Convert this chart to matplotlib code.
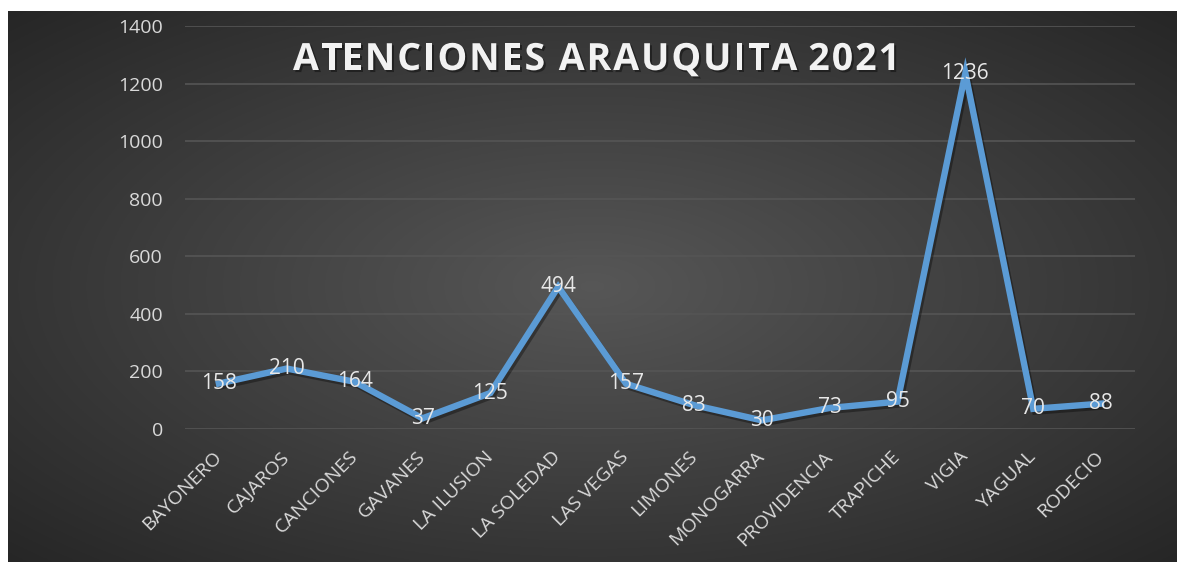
import matplotlib
matplotlib.use('Agg')
import matplotlib.pyplot as plt
import matplotlib.patheffects as pe
import numpy as np

labels = ['BAYONERO', 'CAJAROS', 'CANCIONES', 'GAVANES', 'LA ILUSION', 'LA SOLEDAD', 'LAS VEGAS',
          'LIMONES', 'MONOGARRA', 'PROVIDENCIA', 'TRAPICHE', 'VIGIA', 'YAGUAL', 'RODECIO']
atenciones = [158, 210, 164, 37, 125, 494, 157, 83, 30, 73, 95, 1236, 70, 88]
y_ticks = [0, 200, 400, 600, 800, 1000, 1200, 1400]
title = 'ATENCIONES ARAUQUITA 2021'

plt.rcParams['font.family'] = ['Open Sans', 'DejaVu Sans']

W, H = 1177, 562
fig = plt.figure(figsize=(W / 100, H / 100), dpi=100)
fig.patch.set_facecolor('white')

# dark radial gradient panel behind the chart
bg = fig.add_axes([8 / W, 0, 1 - 8 / W, 551 / H])
gx, gy = np.meshgrid(np.linspace(-1, 1, 600), np.linspace(-1, 1, 300))
r = np.clip(np.sqrt(gx ** 2 + gy ** 2) / np.sqrt(2), 0, 1)
shade = 0.34 - 0.19 * r
bg.imshow(np.dstack([shade, shade, shade]), aspect='auto', extent=[0, 1, 0, 1])
bg.set_axis_off()

ax = fig.add_axes([185 / W, 1 - 429 / H, 950 / W, 403 / H])
ax.patch.set_alpha(0)

x = np.arange(len(labels))
ax.plot(x, atenciones, color='#5B9BD5', linewidth=4.6, solid_joinstyle='miter', zorder=3,
        path_effects=[pe.SimpleLineShadow(offset=(1.5, -2), shadow_color='black', alpha=0.35),
                      pe.Normal()])

for xi, v in zip(x, atenciones):
    ax.text(xi, v, str(v), ha='center', va='center', color='#e8e8e8', fontsize=15, zorder=4)

ax.set_xlim(-0.5, len(labels) - 0.5)
ax.set_ylim(0, 1400)
ax.set_yticks(y_ticks)
ax.set_xticks(x)
ax.set_xticklabels(labels, rotation=45, ha='right', va='center', rotation_mode='anchor')
ax.tick_params(axis='both', length=0, colors='#d9d9d9', labelsize=14)
ax.tick_params(axis='y', pad=16)
ax.tick_params(axis='x', pad=18)
ax.grid(axis='y', color='#555555', linewidth=1.2)
ax.set_axisbelow(True)
for s in ax.spines.values():
    s.set_visible(False)

# letter-spaced title, placed one character at a time
renderer = fig.canvas.get_renderer()
title_kw = dict(color='#f2f2f2', fontsize=27, fontweight='bold', va='center',
                path_effects=[pe.withSimplePatchShadow(offset=(1.5, -1.5), shadow_rgbFace='black', alpha=0.4)])


def text_width(s):
    t = fig.text(0, 0, s + '|', **title_kw)
    w = t.get_window_extent(renderer).width
    t.remove()
    return w


bar_w = text_width('')
plain_w = text_width(title) - bar_w
spacing = (607 - plain_w) / (len(title) - 1)
x0 = 293
for i, ch in enumerate(title):
    if ch == ' ':
        continue
    px = x0 + (text_width(title[:i]) - bar_w) + i * spacing
    fig.text(px / W, 1 - 60 / H, ch, ha='left', **title_kw)

fig.savefig('out.png', dpi=100, facecolor=fig.get_facecolor())
